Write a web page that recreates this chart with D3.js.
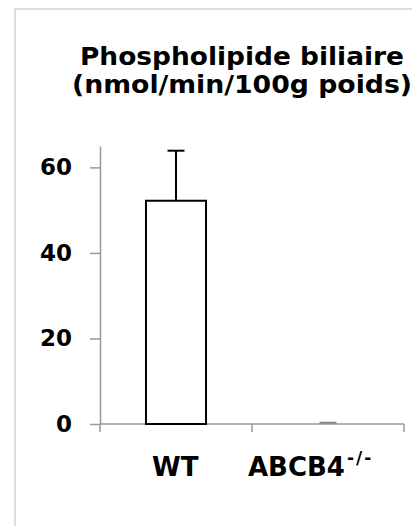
<!doctype html>
<html lang="en">
<head>
    <meta charset="utf-8">
    <title>Phospholipide biliaire</title>
    <style>
        body { margin: 0; background: #fff; }
        text { font-family: "Comic Sans MS", "DejaVu Sans", sans-serif; font-weight: bold; fill: #000; }
    </style>
</head>
<body>
<svg width="412" height="526" id="chart"></svg>
<script src="https://cdn.jsdelivr.net/npm/d3@7/dist/d3.min.js"></script>
<script>
    // data
    const groups = ["WT", "ABCB4"];
    const means = [52.2, 0];
    const errors = [11.7, 0.3];
    const yTicks = [0, 20, 40, 60];
    const titleLines = ["Phospholipide biliaire", "(nmol/min/100g poids)"];

    const svg = d3.select("#chart");

    // light frame round the panel
    svg.append("path")
        .attr("d", "M15,526V9H412")
        .attr("fill", "none")
        .attr("stroke", "#dcdcdc")
        .attr("stroke-width", 2);

    const x = d3.scaleBand()
        .domain(groups)
        .range([100, 404])
        .paddingInner(0)
        .paddingOuter(0);

    const y = d3.scaleLinear()
        .domain([0, 65])
        .range([424, 146]);

    // title, stretched to the width of the original lettering
    const titleW = [324, 340];
    svg.append("text")
        .attr("text-anchor", "middle")
        .style("font-size", "25px")
        .selectAll("tspan")
        .data(titleLines)
        .enter().append("tspan")
        .attr("x", 242)
        .attr("y", (d, i) => 65 + i * 28)
        .attr("textLength", (d, i) => titleW[i])
        .attr("lengthAdjust", "spacingAndGlyphs")
        .text(d => d);

    // y axis
    const yAxis = svg.append("g")
        .attr("transform", "translate(100,0)")
        .call(d3.axisLeft(y).tickValues(yTicks).tickSize(10).tickPadding(18).tickSizeOuter(0));
    yAxis.select(".domain").attr("stroke", "#999").attr("stroke-width", 1.5);
    yAxis.selectAll(".tick line").attr("stroke", "#999").attr("stroke-width", 1.5);
    yAxis.selectAll(".tick text")
        .style("font-family", '"Comic Sans MS", "DejaVu Sans", sans-serif')
        .style("font-weight", "bold")
        .style("font-size", "23px")
        .attr("fill", "#000");

    // x axis with ticks at band edges
    const xg = svg.append("g");
    xg.append("line")
        .attr("x1", x.range()[0]).attr("x2", x.range()[1])
        .attr("y1", y(0)).attr("y2", y(0))
        .attr("stroke", "#999").attr("stroke-width", 1.5);
    xg.selectAll(".edge")
        .data(groups.map(g => x(g) + x.bandwidth()).concat([x.range()[0]]))
        .enter().append("line")
        .attr("x1", d => d).attr("x2", d => d)
        .attr("y1", y(0)).attr("y2", y(0) + 8)
        .attr("stroke", "#999").attr("stroke-width", 1.5);

    const barW = x.bandwidth() * 0.395;

    // bars
    svg.selectAll(".bar")
        .data(groups)
        .enter().append("rect")
        .attr("x", d => x(d) + x.bandwidth() / 2 - barW / 2)
        .attr("y", (d, i) => y(means[i]))
        .attr("width", barW)
        .attr("height", (d, i) => y(0) - y(means[i]))
        .attr("fill", "#fff")
        .attr("stroke", "#000")
        .attr("stroke-width", 2);

    // error bars (upper only)
    const capW = 17;
    groups.forEach((g, i) => {
        const cx = x(g) + x.bandwidth() / 2;
        const col = i === 0 ? "#000" : "#888";
        svg.append("line")
            .attr("x1", cx).attr("x2", cx)
            .attr("y1", y(means[i])).attr("y2", y(means[i] + errors[i]))
            .attr("stroke", col).attr("stroke-width", 2);
        svg.append("line")
            .attr("x1", cx - capW / 2).attr("x2", cx + capW / 2)
            .attr("y1", y(means[i] + errors[i])).attr("y2", y(means[i] + errors[i]))
            .attr("stroke", col).attr("stroke-width", 2);
    });

    // category labels
    const labX = [152, 248];
    const lab = svg.selectAll(".cat")
        .data(groups)
        .enter().append("text")
        .attr("x", (d, i) => labX[i])
        .attr("y", 476)
        .style("font-size", "26px")
        .text(d => d);
    lab.filter(d => d === "ABCB4")
        .append("tspan")
        .attr("dx", 2)
        .attr("dy", -12)
        .style("font-size", "17px")
        .style("letter-spacing", "2px")
        .text("-/-");
</script>
</body>
</html>
